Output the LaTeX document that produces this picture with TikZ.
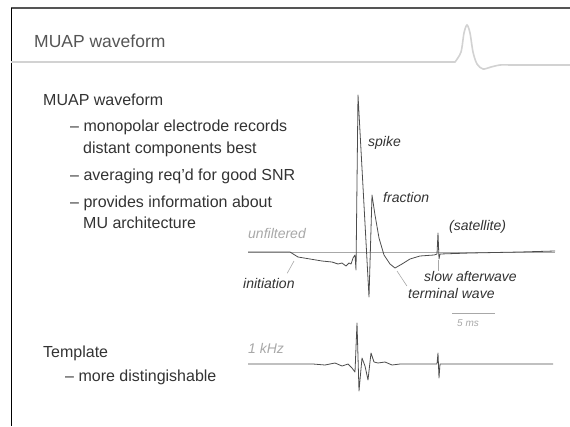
\documentclass[tikz,border=0pt]{standalone}
\usepackage{fontspec}
\setmainfont{Liberation Sans}
\usepackage{tikz}
\usetikzlibrary{arrows}

\definecolor{inkgray}{HTML}{333333}
\definecolor{titlegray}{HTML}{555555}
\definecolor{tracegray}{HTML}{4D4D4D}
\definecolor{palegray}{HTML}{A8A8A8}
\definecolor{rulegray}{HTML}{D2D2D2}

\tikzset{
  headtxt/.style={anchor=base west, inner sep=0pt, text=titlegray, font=\fontsize{17.5}{20}\selectfont},
  bodytxt/.style={anchor=base west, inner sep=0pt, text=inkgray, font=\fontsize{16}{19}\selectfont},
  wavelbl/.style={anchor=base west, inner sep=0pt, text=inkgray, font=\fontsize{14}{16}\selectfont\itshape},
  palelbl/.style={wavelbl, text=palegray},
  trace/.style={draw=tracegray, line width=0.8pt, line join=round},
  leader/.style={draw=palegray, line width=0.6pt},
}

\begin{document}
\begin{tikzpicture}[x=1pt, y=-1pt]
\useasboundingbox (0,0) rectangle (570,426);

\draw[titlegray, line width=1.4pt] (570,8) -- (11,8);
\draw[black, line width=0.8pt] (11,8) -- (11,426);
\draw[rulegray, line width=1.6pt] (11,62) -- (455,62) -- plot[smooth] coordinates
  {(455,62) (461,52) (464,33) (467,25) (470,33) (473,52) (477,64) (483,69) (491,67) (500,65) (510,65)} -- (570,65);

\draw (34,47)  node (title)     [headtxt] {MUAP waveform};

\draw (43,105) node (head)      [bodytxt] {MUAP waveform};
\draw (70,131) node (bullA)     [bodytxt] {\textendash\ monopolar electrode records};
\draw (83,153) node (bullAcont) [bodytxt] {distant components best};
\draw (70,180) node (bullB)     [bodytxt] {\textendash\ averaging req'd for good SNR};
\draw (70,207) node (bullC)     [bodytxt] {\textendash\ provides information about};
\draw (83,228) node (bullCcont) [bodytxt] {MU architecture};

\draw (43,357) node (tmpl)      [bodytxt] {Template};
\draw (65,381) node (tmplA)     [bodytxt] {\textendash\ more distingishable};

\draw[palegray, line width=0.6pt] (248,252) -- (555,252);
\draw[trace] (248,252) -- (290,252) -- (298,257) -- (310,259) -- (322,261) -- (332,262)
  -- (338,264) -- (342,263) -- (346,266) -- (349,263) -- (351,264) -- (353,258) -- (355,255)
  -- (356,270) -- (358,95) -- (369,297) -- (372,195) -- (375,215) -- (379,238)
  -- (384,255) -- (390,264) -- (395,268) -- (402,264) -- (410,259) -- (420,256) -- (434,255)
  -- (437,254) -- (438,233) -- (439,259) -- (440,254) -- (470,253) -- (520,252) -- (555,251);

\coordinate (initpt) at (294,261);
\coordinate (termpt) at (397,271);
\coordinate (satfoot) at (438,260);

\draw (368,146) node (spike)     [wavelbl] {spike};
\draw (383,202) node (fraction)  [wavelbl] {fraction};
\draw (449,230) node (satellite) [wavelbl] {(satellite)};
\draw (248,238) node (unfilt)    [palelbl] {unfiltered};
\draw (243,288) node (init)      [wavelbl] {initiation};
\draw (424,281) node (slow)      [wavelbl] {slow afterwave};
\draw (408,298) node (term)      [wavelbl] {terminal wave};

\draw[leader, shorten <=5pt] ([xshift=-10pt]init.north east) -- (initpt);
\draw[leader, shorten >=2pt] (termpt) -- (term.north west);
\draw[leader] (satfoot) -- (slow.north -| satfoot);

\draw[palegray, line width=0.8pt] (452,313) -- (495,313);
\draw (468,326) node (scalelbl) [palelbl, anchor=base, font=\fontsize{10}{12}\selectfont\itshape] {5 ms};

\draw (248,353) node (khz) [palelbl] {1 kHz};
\draw[trace] (248,364) -- (313,364) -- (325,365) -- (335,363) -- (342,366) -- (348,364)
  -- (352,368) -- (355,372) -- (357,323) -- (359,391) -- (362,358) -- (365,366) -- (368,380)
  -- (371,353) -- (374,362) -- (378,363) -- (385,362) -- (392,365) -- (400,364) -- (437,364)
  -- (438,353) -- (439,378) -- (440,364) -- (553,364);
\end{tikzpicture}
\end{document}
